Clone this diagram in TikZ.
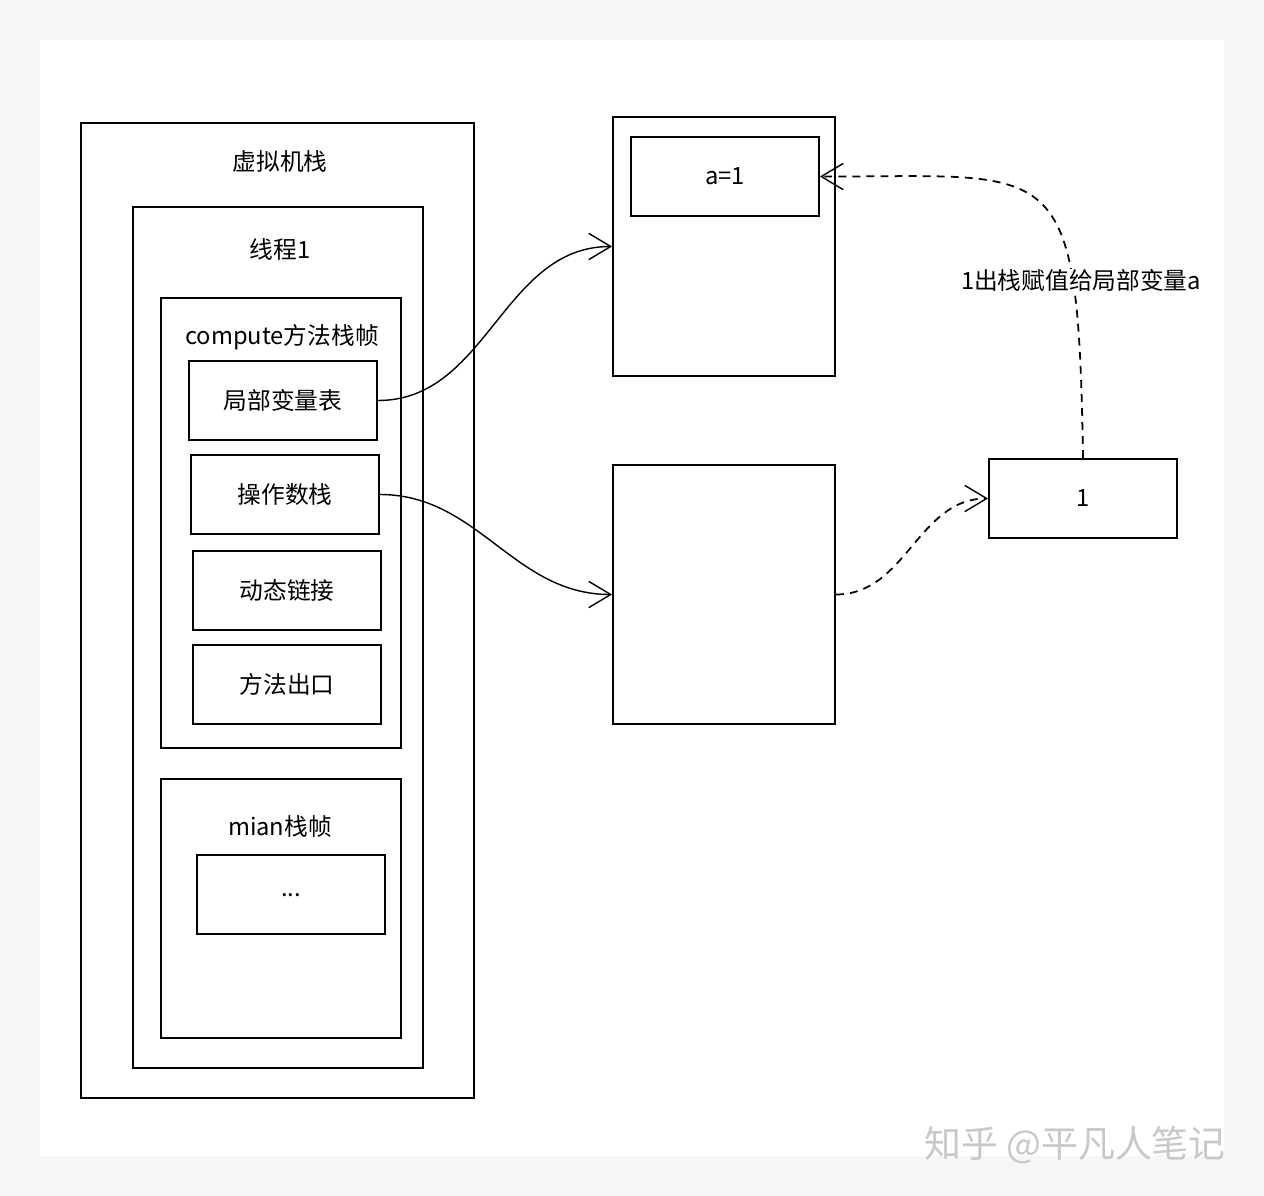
\documentclass[tikz,border=0pt]{standalone}
\usepackage{fontspec}
\setmainfont{Noto Sans CJK SC}
\usetikzlibrary{arrows.meta,positioning}
\definecolor{pagebg}{HTML}{F6F6F6}
\definecolor{markgray}{HTML}{C8C8C8}

\begin{document}
\begin{tikzpicture}[x=0.02cm,y=-0.02cm,
    box/.style={draw,line width=1.1pt,minimum width=3.76cm,minimum height=1.58cm,
        inner sep=0pt,font=\fontsize{13.5pt}{16pt}\selectfont},
    frame/.style={draw,line width=1.1pt,inner sep=0pt},
    title/.style={inner sep=1pt,font=\fontsize{13.5pt}{16pt}\selectfont},
    link/.style={line width=0.8pt,-{Straight Barb[length=12.5pt,width=15pt,line width=0.8pt]}},
    dlink/.style={link,line width=1pt,dash pattern=on 4.5pt off 3.5pt}]
    % page and card
    \fill[pagebg] (0,0) rectangle (1264,1196);
    \fill[black!3] (38,42) rectangle (1228,1162);
    \fill[white] (40,40) rectangle (1224,1156);

    % stack of the virtual machine
    \node[frame,minimum width=7.86cm,minimum height=19.5cm] (vms) at (277.5,610.5) {};
    \node[title] (vmsT) at (280,161) {虚拟机栈};
    % thread
    \node[frame,minimum width=5.8cm,minimum height=17.22cm] (thr) at (278,637.5) {};
    \node[title] (thrT) at (280,249) {线程1};
    % compute frame
    \node[frame,minimum width=4.8cm,minimum height=9cm] (cmp) at (281,523) {};
    \node[title] (cmpT) at (282,337) {compute方法栈帧};
    \node[box] (lvt) at (283,400.5) {局部变量表};
    \node[box] (ops) at (285,494.5) {操作数栈};
    \node[box] (dyn) at (287,590.5) {动态链接};
    \node[box] (ret) at (287,684.5) {方法出口};
    % main frame
    \node[frame,minimum width=4.8cm,minimum height=5.18cm] (mn) at (281,908.5) {};
    \node[title] (mnT) at (280,827) {mian栈帧};
    \node[box] (dots) at (291,894.5) {\raisebox{-3pt}{...}};

    % right side
    \node[frame,minimum width=4.44cm,minimum height=5.18cm] (lvtR) at (724,246.5) {};
    \node[box] (a1) at (725,176.5) {a=1};
    \node[frame,minimum width=4.44cm,minimum height=5.18cm] (opsR) at (724,594.5) {};
    \node[box] (one) at (1083,498.5) {1};

    % connectors
    \draw[link] (lvt.east) to[out=0,in=180] (lvtR.west);
    \draw[link] (ops.east) to[out=0,in=180] (opsR.west);
    \draw[dlink] (opsR.east) to[out=0,in=180] (one.west);
    \draw[dlink] (one.north) .. controls (1078,150) and (1060,177) .. (a1.east);
    \node[title,fill=white,inner sep=0pt] (popT) at (1081,280) {1出栈赋值给局部变量a};

    % watermark
    \node[inner sep=0pt,text=markgray,font=\fontsize{21pt}{24pt}\selectfont] (mark) at (1075,1145) {知乎 @平凡人笔记};
\end{tikzpicture}
\end{document}
